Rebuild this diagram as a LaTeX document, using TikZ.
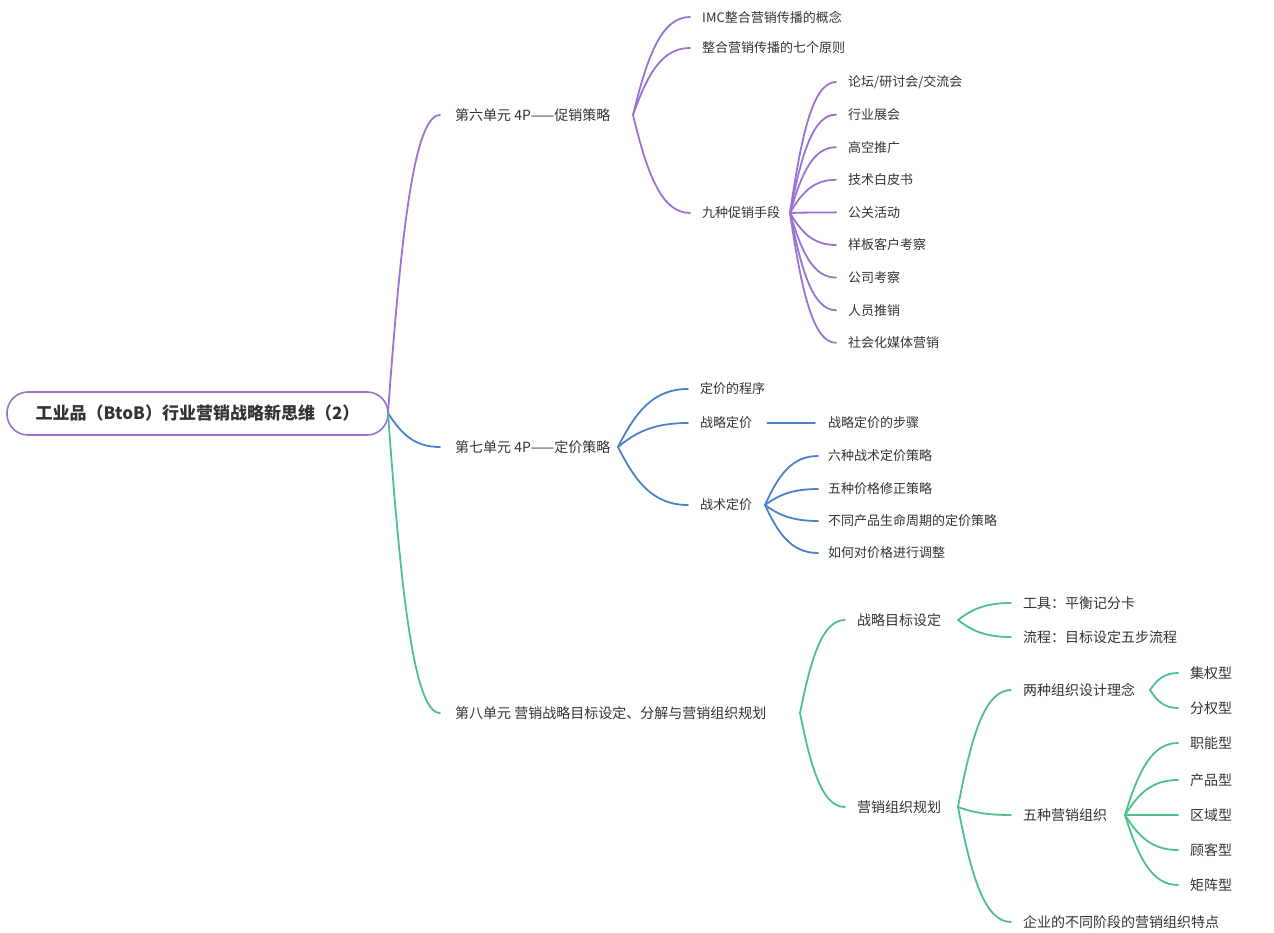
\documentclass[tikz,border=0pt]{standalone}
\usepackage{fontspec}
\setmainfont{Noto Sans CJK SC}
\usetikzlibrary{calc}
\definecolor{cpur}{HTML}{9A72D6}
\definecolor{cblu}{HTML}{4A80D0}
\definecolor{cgrn}{HTML}{4DC08C}
\definecolor{ctxt}{HTML}{333333}
\tikzset{
  lbl/.style={anchor=west,inner sep=0pt,text=ctxt,font=\fontsize{13}{15}\selectfont},
  lblb/.style={lbl,font=\fontsize{14}{16}\selectfont},
  lvl/.style={lbl,font=\fontsize{14}{16}\selectfont},
  rootbox/.style={draw=cpur!85!gray,line width=1.6pt,rounded corners=21pt,minimum width=381pt,minimum height=43pt,inner sep=0pt,text=ctxt,font=\fontsize{17}{20}\selectfont\bfseries},
  pur/.style={draw=cpur,line width=1.8pt,line cap=round},
  blu/.style={draw=cblu,line width=1.8pt,line cap=round},
  grn/.style={draw=cgrn,line width=1.8pt,line cap=round},
}
\newcommand\br[3]{\draw[#1] let \p1=(#2),\p2=(#3) in (\p1) .. controls (\x1+0.25*\x2-0.25*\x1,\y1+0.6*\y2-0.6*\y1) and (0.5*\x1+0.5*\x2,\y2) .. (\p2);}
\begin{document}
\begin{tikzpicture}[x=1pt,y=-1pt]
\useasboundingbox (0,0) rectangle (1274,933);
% root
\node[rootbox] (root) at (197.5,413.5) {工业品（BtoB）行业营销战略新思维（2）};
\coordinate (rh) at (388,413);
% level 1
\node[lvl] (u6) at (455,115) {第六单元 4P——促销策略};
\node[lvl] (u7) at (455,447) {第七单元 4P——定价策略};
\node[lvl] (u8) at (455,713) {第八单元 营销战略目标设定、分解与营销组织规划};
\coordinate (e6) at (440,115);
\coordinate (e7) at (440,447);
\coordinate (e8) at (440,713);
\br{pur}{rh}{e6}
\br{blu}{rh}{e7}
\br{grn}{rh}{e8}
% unit 6
\coordinate (h6) at (633,115);
\node[lbl] (a1) at (702,17) {IMC整合营销传播的概念};
\node[lbl] (a2) at (702,48) {整合营销传播的七个原则};
\node[lbl] (a3) at (702,213) {九种促销手段};
\foreach \k in {a1,a2,a3}{\coordinate (\k e) at ([xshift=-12pt]\k.west); \br{pur}{h6}{\k e}}
\coordinate (h9) at (790,213);
\foreach \t [count=\i] in {论坛/研讨会/交流会,行业展会,高空推广,技术白皮书,公关活动,样板客户考察,公司考察,人员推销,社会化媒体营销}{
  \node[lbl] (p\i) at (848,{82+32.6*(\i-1)}) {\t};
  \coordinate (p\i e) at ([xshift=-12pt]p\i.west);
  \br{pur}{h9}{p\i e}
}
% unit 7
\coordinate (h7) at (618,447);
\node[lbl] (b1) at (700,389) {定价的程序};
\node[lbl] (b2) at (700,423) {战略定价};
\node[lbl] (b3) at (700,505) {战术定价};
\foreach \k in {b1,b2,b3}{\coordinate (\k e) at ([xshift=-12pt]\k.west); \br{blu}{h7}{\k e}}
\node[lbl] (b21) at (828,423) {战略定价的步骤};
\draw[blu] ([xshift=15pt]b2.east) -- ([xshift=-13pt]b21.west);
\coordinate (hb3) at (765,505);
\foreach \t/\y [count=\i] in {六种战术定价策略/456,五种价格修正策略/489,不同产品生命周期的定价策略/521,如何对价格进行调整/553}{
  \node[lbl] (q\i) at (828,\y) {\t};
  \coordinate (q\i e) at ([xshift=-10pt]q\i.west);
  \br{blu}{hb3}{q\i e}
}
% unit 8
\coordinate (h8) at (800,713);
\node[lblb] (c1) at (857,620) {战略目标设定};
\node[lblb] (c2) at (857,807) {营销组织规划};
\foreach \k in {c1,c2}{\coordinate (\k e) at ([xshift=-12pt]\k.west); \br{grn}{h8}{\k e}}
\coordinate (hc1) at (958,620);
\node[lblb] (c11) at (1023,603) {工具：平衡记分卡};
\node[lblb] (c12) at (1023,637) {流程：目标设定五步流程};
\foreach \k in {c11,c12}{\coordinate (\k e) at ([xshift=-12pt]\k.west); \br{grn}{hc1}{\k e}}
\coordinate (hc2) at (958,807);
\node[lblb] (c21) at (1023,690) {两种组织设计理念};
\node[lblb] (c22) at (1023,815) {五种营销组织};
\node[lblb] (c23) at (1023,922) {企业的不同阶段的营销组织特点};
\foreach \k in {c21,c22,c23}{\coordinate (\k e) at ([xshift=-12pt]\k.west); \br{grn}{hc2}{\k e}}
\coordinate (hc21) at (1150,690);
\node[lblb] (d1) at (1190,673) {集权型};
\node[lblb] (d2) at (1190,708) {分权型};
\foreach \k in {d1,d2}{\coordinate (\k e) at ([xshift=-12pt]\k.west); \br{grn}{hc21}{\k e}}
\coordinate (hc22) at (1125,815);
\foreach \t/\y [count=\i] in {职能型/743,产品型/780,区域型/815,顾客型/850,矩阵型/885}{
  \node[lblb] (f\i) at (1190,\y) {\t};
  \coordinate (f\i e) at ([xshift=-12pt]f\i.west);
  \br{grn}{hc22}{f\i e}
}
\end{tikzpicture}
\end{document}
